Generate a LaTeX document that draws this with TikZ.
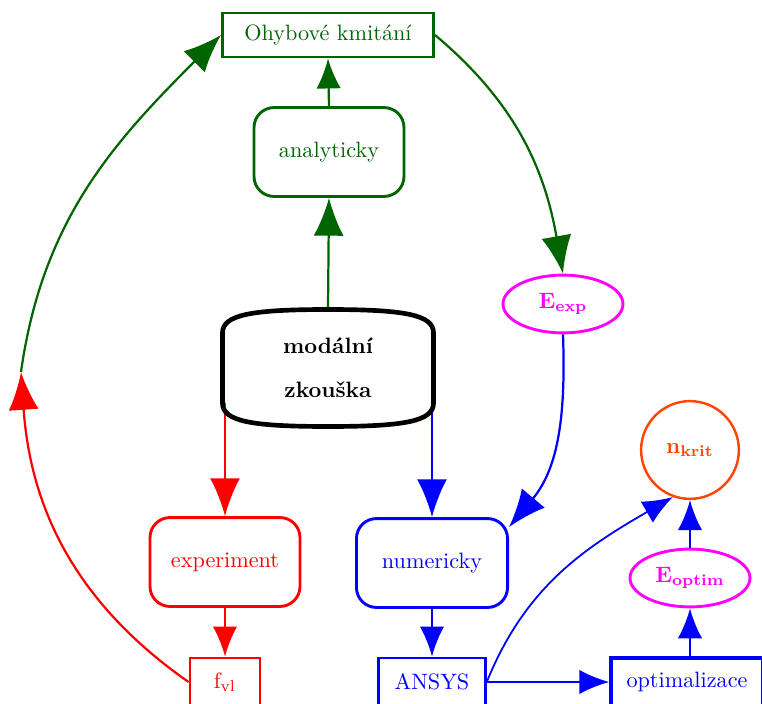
\documentclass[tikz,border=0pt]{standalone}
\usetikzlibrary{arrows.meta,shapes.geometric}
\definecolor{dgreen}{RGB}{0,100,0}
\definecolor{ored}{RGB}{255,69,0}
\definecolor{mgnt}{RGB}{255,0,255}
\definecolor{pblue}{RGB}{0,0,255}
\definecolor{pred}{RGB}{255,0,0}
\begin{document}
\begin{tikzpicture}[x=0.45pt,y=0.45pt,
  bigarrow/.style={-{Latex[length=17pt,width=13.5pt]}},
  smallarrow/.style={-{Latex[length=13.5pt,width=11pt]}},
  boxline/.style={line width=1.3pt},
  conn/.style={line width=1pt},
  rbox/.style={draw,boxline,rounded corners=9pt,minimum width=67.5pt,minimum height=40pt},
  sbox/.style={draw,boxline,minimum height=21.6pt},
  ell/.style={draw,ellipse,boxline,minimum width=54pt,minimum height=26pt,inner sep=0pt},
]
\useasboundingbox (0,0) rectangle (762,703);
% nodes
\node[sbox,draw=dgreen,text=dgreen,minimum width=95pt,minimum height=19.8pt] (O) at (328,668) {Ohybové kmitání};
\node[rbox,draw=dgreen,text=dgreen] (ana) at (329,551) {analyticky};
\node[minimum width=95pt,minimum height=52.7pt,align=center,font=\bfseries] (mod) at (328,335) {modální\\[7.8pt]zkouška};
\node[ell,draw=mgnt,text=mgnt] (Eexp) at (563,399) {$\mathbf{E_{exp}}$};
\node[draw=ored,text=ored,circle,line width=1.1pt,minimum size=44pt,inner sep=0pt] (nk) at (690,253) {$\mathbf{n_{krit}}$};
\node[ell,draw=mgnt,text=mgnt] (Eopt) at (690,125) {$\mathbf{E_{optim}}$};
\node[rbox,draw=pred,text=pred] (exp) at (225,141) {experiment};
\node[rbox,draw=pblue,text=pblue,minimum width=68pt] (num) at (432,140) {numericky};
\node[sbox,draw=pred,text=pred,minimum width=31.5pt] (fvl) at (225,21) {$\mathrm{f_{vl}}$};
\node[sbox,draw=pblue,text=pblue,minimum width=48pt] (ansys) at (432,21) {ANSYS};
\node[sbox,draw=pblue,text=pblue,minimum width=68.4pt,line width=1.5pt] (opt) at (687,21) {optimalizace};
\coordinate (c) at (21,331);
\coordinate (mr) at (225,300);
\coordinate (mb) at (432,300);
% connectors
\draw[conn,dgreen,smallarrow] (ana.north) -- (O.south);
\draw[conn,dgreen,bigarrow] (mod.north) -- (ana.south);
\draw[conn,pred,bigarrow] (mr) -- (exp.north);
\draw[conn,pblue,bigarrow] (mb) -- (num.north);
\draw[conn,pred,smallarrow] (exp.south) -- (fvl.north);
\draw[conn,pblue,smallarrow] (num.south) -- (ansys.north);
\draw[conn,pblue,smallarrow] (ansys.east) -- (opt.west);
\draw[conn,pblue,smallarrow] (Eopt.south |- opt.north) -- (Eopt.south);
\draw[conn,pblue,smallarrow] (Eopt.north) -- (nk.south);
\draw[pblue,line width=0.8pt,smallarrow] (ansys.east) to[out=68,in=-150] (nk.-110);
\draw[conn,dgreen,bigarrow] (O.east) to[out=-40,in=100] (Eexp.north);
\draw[conn,pblue,bigarrow] (Eexp.south) to[out=-88,in=50] (num.25);
\draw[conn,pred,bigarrow] (fvl.west) to[out=145,in=-86] (c);
\draw[conn,dgreen,bigarrow] (c) to[out=82,in=-135] (O.west);
% black box shape
\draw[line width=2.1pt,black] (222.5,370) .. controls (222.5,388) and (250,393.5) .. (328,393.5)
  .. controls (406,393.5) and (433.5,388) .. (433.5,370) -- (433.5,300)
  .. controls (433.5,282) and (406,276.5) .. (328,276.5)
  .. controls (250,276.5) and (222.5,282) .. (222.5,300) -- cycle;
\end{tikzpicture}
\end{document}
